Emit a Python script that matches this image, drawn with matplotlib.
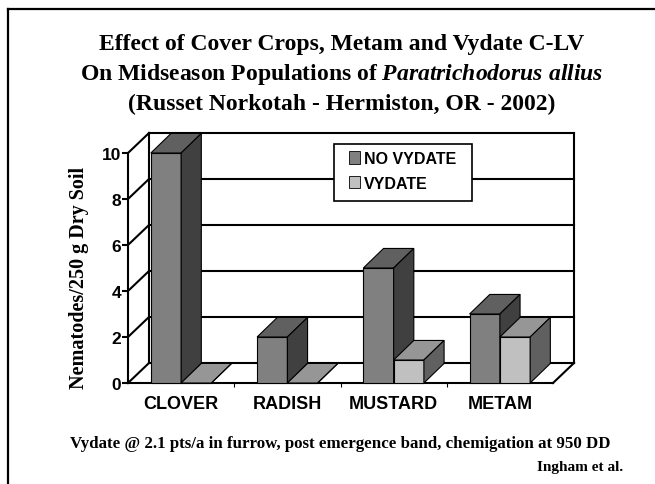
import matplotlib
matplotlib.use("Agg")
import matplotlib.pyplot as plt
from matplotlib.patches import Polygon, Patch, Rectangle
from matplotlib.lines import Line2D

categories = ["CLOVER", "RADISH", "MUSTARD", "METAM"]
no_vydate = [10, 2, 5, 3]
vydate = [0, 0, 1, 2]
series_names = ["NO VYDATE", "VYDATE"]
yticks = [0, 2, 4, 6, 8, 10]

title1 = "Effect of Cover Crops, Metam and Vydate C-LV"
title2 = r"On Midseason Populations of $\mathit{Paratrichodorus\ allius}$"
title3 = "(Russet Norkotah - Hermiston, OR - 2002)"
ylabel = "Nematodes/250 g Dry Soil"
footnote = "Vydate @ 2.1 pts/a in furrow, post emergence band, chemigation at 950 DD"
credit = "Ingham et al."

plt.rcParams["mathtext.fontset"] = "custom"
plt.rcParams["mathtext.rm"] = "Liberation Serif:bold"
plt.rcParams["mathtext.it"] = "Liberation Serif:bold:italic"

W, H = 655, 485
fig = plt.figure(figsize=(W / 100, H / 100), dpi=100)

# axes box: front floor at y=384px, back wall top at 134px
ax = fig.add_axes([128 / W, (H - 384) / H, (574 - 128) / W, (384 - 134) / H])
DX, DY = 21 / 106.25, 20 / 23          # wall depth in data units
BDX, BDY = 0.19, 0.85                   # bar depth
n = len(categories)
ymax = 10
ax.set_xlim(0, n + DX)
ax.set_ylim(0, ymax + DY)
for s in ax.spines.values():
    s.set_visible(False)

lw = 1.5
kw = dict(color="black", lw=lw, clip_on=False, solid_capstyle="projecting", zorder=2)
# back wall grid lines + side wall diagonals
for v in range(0, ymax + 1, 2):
    ax.plot([DX, n + DX], [v + DY, v + DY], **kw)
    ax.plot([0, DX], [v, v + DY], **kw)
ax.plot([DX, DX], [DY, ymax + DY], **kw)
ax.plot([n + DX, n + DX], [DY, ymax + DY], **kw)
# floor
ax.plot([0, n], [0, 0], **kw)
ax.plot([n, n + DX], [0, DY], **kw)
ax.plot([0, 0], [0, ymax], **kw)


def bar3d(x0, w, h, front, top, side):
    faces = [
        ([(x0, 0), (x0 + w, 0), (x0 + w, h), (x0, h)], front),
        ([(x0, h), (x0 + w, h), (x0 + w + BDX, h + BDY), (x0 + BDX, h + BDY)], top),
        ([(x0 + w, 0), (x0 + w + BDX, BDY), (x0 + w + BDX, h + BDY), (x0 + w, h)], side),
    ]
    for pts, c in faces:
        ax.add_patch(Polygon(pts, closed=True, facecolor=c, edgecolor="black",
                             lw=0.8, clip_on=False, joinstyle="miter", zorder=3))


bw = 0.285
off = 0.215
for i in range(n):
    bar3d(i + off, bw, no_vydate[i], "#808080", "#606060", "#404040")
    bar3d(i + off + bw, bw, vydate[i], "#c0c0c0", "#969696", "#606060")

# ticks
ax.set_yticks(yticks)
ax.set_yticklabels([str(t) for t in yticks], fontfamily="Liberation Sans",
                   fontweight="bold", fontsize=12.5)
ax.tick_params(axis="y", length=4, width=lw, pad=1)
ax.set_xticks([i + 0.5 for i in range(n)])
ax.set_xticklabels(categories, fontfamily="Liberation Sans", fontweight="bold",
                   fontsize=13)
ax.tick_params(axis="x", length=0, pad=9)
ax.set_xticks(range(1, n), minor=True)
ax.tick_params(axis="x", which="minor", length=3, width=0.8)

ax.set_ylabel(ylabel, fontfamily="Liberation Serif", fontweight="bold", fontsize=14.5)
ax.yaxis.set_label_coords((89 - 128) / (574 - 128), (384 - 278) / 250)

# legend box drawn separately so its padding can match
ax.add_patch(Rectangle((334 / W, 1 - 202 / H), 138 / W, 57 / H, transform=fig.transFigure,
                       facecolor="white", edgecolor="black", lw=1.2, clip_on=False,
                       zorder=4.5))
leg = ax.legend(handles=[Patch(facecolor="#808080", edgecolor="black", lw=0.6),
                         Patch(facecolor="#c0c0c0", edgecolor="black", lw=0.6)],
                labels=series_names, loc="upper left",
                bbox_to_anchor=(349 / W, 1 - 152 / H), bbox_transform=fig.transFigure,
                prop=dict(family="Liberation Sans", weight="bold", size=11.5),
                frameon=False, borderaxespad=0, borderpad=0, handlelength=0.7,
                handleheight=0.8, handletextpad=0.25, labelspacing=0.6)
leg.set_zorder(5)

tkw = dict(ha="center", va="baseline", fontfamily="Liberation Serif",
           fontweight="bold", fontsize=17)
fig.text(342 / W, 1 - 50 / H, title1, **tkw)
fig.text(342 / W, 1 - 80 / H, title2, **tkw)
fig.text(342 / W, 1 - 110 / H, title3, **tkw)
fig.text(340 / W, 1 - 448 / H, footnote, ha="center", va="baseline",
         fontfamily="Liberation Serif", fontweight="bold", fontsize=12.2)
fig.text(623 / W, 1 - 471 / H, credit, ha="right", va="baseline",
         fontfamily="Liberation Serif", fontweight="bold", fontsize=11)

# outer frame (top and left edges)
fig.add_artist(Line2D([7.5 / W, 7.5 / W], [0, 1 - 9.5 / H], color="black",
                      lw=1.6, transform=fig.transFigure))
fig.add_artist(Line2D([7.5 / W, 1], [1 - 9.5 / H, 1 - 9.5 / H], color="black",
                      lw=1.6, transform=fig.transFigure))

fig.savefig("out.png", dpi=100)
